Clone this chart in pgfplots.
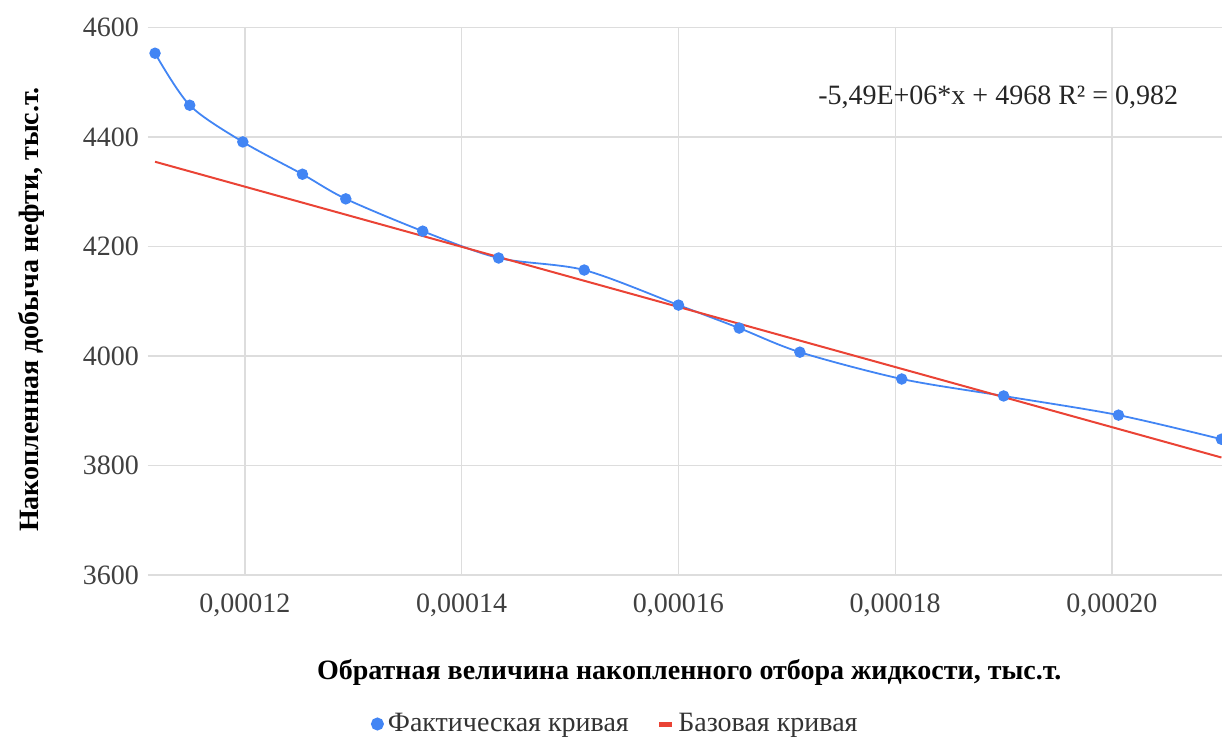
\documentclass[border=0pt]{standalone}
\usepackage{fontspec}
\setmainfont{Liberation Serif}
\usepackage{pgfplots}
\pgfplotsset{compat=1.18}
\definecolor{gblue}{HTML}{4285F4}
\definecolor{gred}{HTML}{EA4335}
\definecolor{ggrid}{HTML}{DDDDDD}
\begin{document}
\begin{tikzpicture}
\path[use as bounding box] (-74pt,-82.5pt) rectangle (537pt,287.5pt);
\begin{axis}[
  at={(0,0)}, anchor=south west,
  scale only axis, width=537pt, height=273.75pt,
  xmin=0.00011105, xmax=0.00021015,
  ymin=3600, ymax=4600,
  xtick={0.00012,0.00014,0.00016,0.00018,0.0002},
  xticklabels={{0,00012},{0,00014},{0,00016},{0,00018},{0,00020}},
  ytick={3600,3800,4000,4200,4400,4600},
  yticklabel style={/pgf/number format/1000 sep={}, xshift=-1pt},
  scaled x ticks=false,
  /pgf/number format/assume math mode=true,
  ticklabel style={font=\fontsize{14}{16}\selectfont, text=black!75},
  xticklabel style={yshift=-6pt},
  major tick length=0pt,
  axis line style={draw=none},
  grid=major, grid style={ggrid, line width=0.6pt},
  xlabel={Обратная величина накопленного отбора жидкости, тыс.т.},
  ylabel={Накопленная добыча нефти, тыс.т.},
  label style={font=\bfseries\fontsize{14}{16}\selectfont},
  xlabel style={at={(axis description cs:0.504,0)}, anchor=center, yshift=-48.5pt},
  ylabel style={at={(axis description cs:0,0.485)}, anchor=center, rotate=0, yshift=58.5pt},
  legend columns=2,
  legend style={draw=none, fill=none, at={(axis description cs:0.436,0)}, anchor=center, yshift=-74.5pt,
    font=\fontsize{14}{16}\selectfont, text=black!80,
    /tikz/every even column/.append style={column sep=12pt}},
  clip=true,
]
\addplot[gblue, line width=0.9pt, smooth, tension=0.5, mark=*, mark size=2.4pt, mark options={fill=gblue, draw=gblue},
  legend image code/.code={\fill[gblue] (0.12cm,0) circle (2.8pt);}]
coordinates {
(0.0001117,4553)
(0.0001149,4458)
(0.0001198,4391)
(0.0001253,4332)
(0.0001293,4287)
(0.0001364,4228)
(0.0001434,4179)
(0.0001513,4157)
(0.00016,4093)
(0.0001656,4051)
(0.0001712,4007)
(0.0001806,3958)
(0.00019,3927)
(0.0002006,3892)
(0.0002101,3848)
};
\addlegendentry{Фактическая кривая}
\addplot[gred, line width=1pt,
  legend image code/.code={\draw[gred, line width=2.5pt] (0.02cm,0) -- (0.24cm,0);}]
coordinates {
(0.0001117,4354.8)
(0.0002101,3814.6)
};
\addlegendentry{Базовая кривая}
\node[font=\fontsize{14}{16}\selectfont, text=black!85, anchor=center] at (axis cs:0.0001895,4473) {-5,49E+06*x + 4968 R² = 0,982};
\end{axis}
\end{tikzpicture}
\end{document}
